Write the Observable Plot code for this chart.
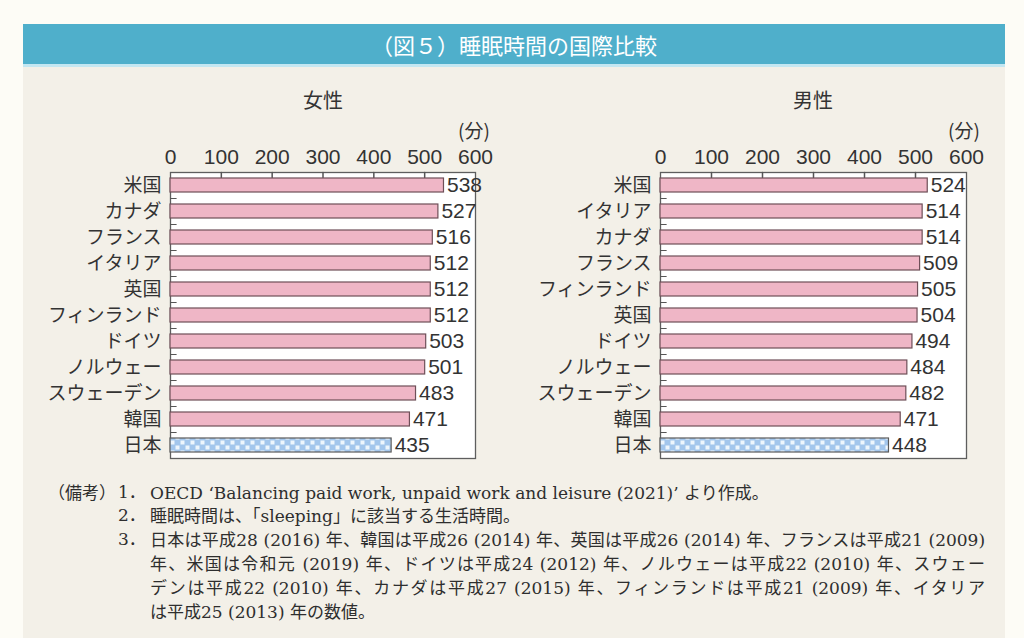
<!DOCTYPE html>
<html><head><meta charset="utf-8">
<script src="https://cdn.jsdelivr.net/npm/d3@7"></script>
<script src="https://cdn.jsdelivr.net/npm/@observablehq/plot@0.6"></script>
<style>
html,body{margin:0;padding:0;}
body{width:1024px;height:638px;background:#fdfcf6;position:relative;overflow:hidden;font-family:"Noto Sans CJK JP","Noto Sans",sans-serif;color:#333;}
.abs{position:absolute;}
#panel{left:23px;top:24px;width:982px;height:614px;background:#f3f0e8;}
#titlebar{left:23px;top:24px;width:982px;height:40px;background:#4fafcb;color:#fff;font-size:22px;line-height:40px;text-align:center;border-bottom:3px solid #c3e7f2;}
.ctitle{font-size:20px;line-height:24px;width:200px;text-align:center;}
.unit{font-size:19px;line-height:20px;}
.note{font-family:"DejaVu Serif","Noto Sans CJK JP",serif;font-size:17px;line-height:24px;white-space:nowrap;color:#2e2e2e;}
.note .j{font-family:"Noto Sans CJK JP",sans-serif;font-size:17px;}
.just{text-align:justify;text-align-last:justify;white-space:normal;}
</style>
</head><body>
<svg width="0" height="0" style="position:absolute">
  <defs>
    <pattern id="checkJ" patternUnits="userSpaceOnUse" width="10" height="10">
      <rect x="0" y="0" width="10" height="10" fill="#a3c6ec"></rect>
      <rect x="0.5" y="0.5" width="4" height="4" fill="#eef6fd"></rect>
      <rect x="5.5" y="5.5" width="4" height="4" fill="#eef6fd"></rect>
    </pattern>
  </defs>
</svg>
<div id="panel" class="abs"></div>
<div id="titlebar" class="abs">（図５）睡眠時間の国際比較</div>
<div class="abs ctitle" style="left:223px;top:88px;">女性</div>
<div class="abs ctitle" style="left:713px;top:88px;">男性</div>
<div class="abs unit" style="left:458px;top:120px;">(分)</div>
<div class="abs unit" style="left:948px;top:120px;">(分)</div>
<div id="left" class="abs" style="left:30px;top:140px;"></div>
<div id="right" class="abs" style="left:520px;top:140px;"></div>

<div class="abs note" style="left:48px;top:480px;"><span class="j">（備考）</span></div>
<div class="abs note" style="left:118px;top:480px;">1．</div>
<div class="abs note" style="left:150px;top:480px;">OECD ‘Balancing paid work, unpaid work and leisure (2021)’ <span class="j">より作成。</span></div>
<div class="abs note" style="left:118px;top:503px;">2．</div>
<div class="abs note" style="left:150px;top:503px;"><span class="j">睡眠時間は、「</span>sleeping<span class="j">」に該当する生活時間。</span></div>
<div class="abs note" style="left:118px;top:527px;">3．</div>
<div class="abs note just" style="left:150px;top:527px;width:835px;"><span class="j">日本は平成</span>28 (2016) <span class="j">年、韓国は平成</span>26 (2014) <span class="j">年、英国は平成</span>26 (2014) <span class="j">年、フランスは平成</span>21 (2009)</div>
<div class="abs note just" style="left:150px;top:551px;width:835px;"><span class="j">年、米国は令和元</span> (2019) <span class="j">年、ドイツは平成</span>24 (2012) <span class="j">年、ノルウェーは平成</span>22 (2010) <span class="j">年、スウェー</span></div>
<div class="abs note just" style="left:150px;top:575px;width:835px;"><span class="j">デンは平成</span>22 (2010) <span class="j">年、カナダは平成</span>27 (2015) <span class="j">年、フィンランドは平成</span>21 (2009) <span class="j">年、イタリア</span></div>
<div class="abs note" style="left:150px;top:599px;"><span class="j">は平成</span>25 (2013) <span class="j">年の数値。</span></div>

<script>
const femaleCountries = ["米国","カナダ","フランス","イタリア","英国","フィンランド","ドイツ","ノルウェー","スウェーデン","韓国","日本"];
const femaleValues = [538,527,516,512,512,512,503,501,483,471,435];
const maleCountries = ["米国","イタリア","カナダ","フランス","フィンランド","英国","ドイツ","ノルウェー","スウェーデン","韓国","日本"];
const maleValues = [524,514,514,509,505,504,494,484,482,471,448];
const xTicks = [0,100,200,300,400,500,600];
const innerTicks = [100,200,300,400,500];
const highlight = "日本";

const tickShape = {draw(context, l) { context.moveTo(0, 0); context.lineTo(0, -l); }};
const digitFont = '"Liberation Sans","Noto Sans",sans-serif';

function chart(countries, values, marginRight) {
  const data = countries.map((c, i) => ({country: c, value: values[i]}));
  return Plot.plot({
    width: 480, height: 326,
    marginLeft: 140, marginRight: marginRight, marginTop: 32, marginBottom: 8,
    x: {domain: [0, 600], ticks: xTicks},
    y: {domain: countries, paddingInner: 0.46, paddingOuter: 0.23},
    style: {fontFamily: '"Noto Sans CJK JP","Noto Sans",sans-serif', color: "#333", background: "transparent", overflow: "visible"},
    marks: [
      Plot.frame({fill: "#fff", stroke: "#5e5e5e", strokeWidth: 1.3}),
      Plot.axisX({anchor: "top", ticks: xTicks, tickSize: 0, tickPadding: 9, fontSize: 21, fontFamily: digitFont, label: null}),
      Plot.vector(innerTicks, {x: d => d, frameAnchor: "top", length: 5, rotate: 180, anchor: "start", shape: tickShape, stroke: "#555"}),
      Plot.ruleY(countries.slice(1), {x1: 0, x2: 13, dy: -13, stroke: "#555"}),
      Plot.axisY({tickSize: 0, tickPadding: 9, fontSize: 19, label: null}),
      Plot.barX(data.filter(d => d.country !== highlight), {x: "value", y: "country", fill: "#efb6c6", stroke: "#6e4f58", strokeWidth: 1.2}),
      Plot.barX(data.filter(d => d.country === highlight), {x: "value", y: "country", fill: "url(#checkJ)", stroke: "#5a5a5a", strokeWidth: 1.2}),
      Plot.text(data, {x: "value", y: "country", text: d => String(d.value), textAnchor: "start", dx: 3, fontSize: 21, fontFamily: digitFont, fill: "#333"})
    ]
  });
}
document.getElementById("left").appendChild(chart(femaleCountries, femaleValues, 35));
document.getElementById("right").appendChild(chart(maleCountries, maleValues, 34));
</script>
</body></html>
